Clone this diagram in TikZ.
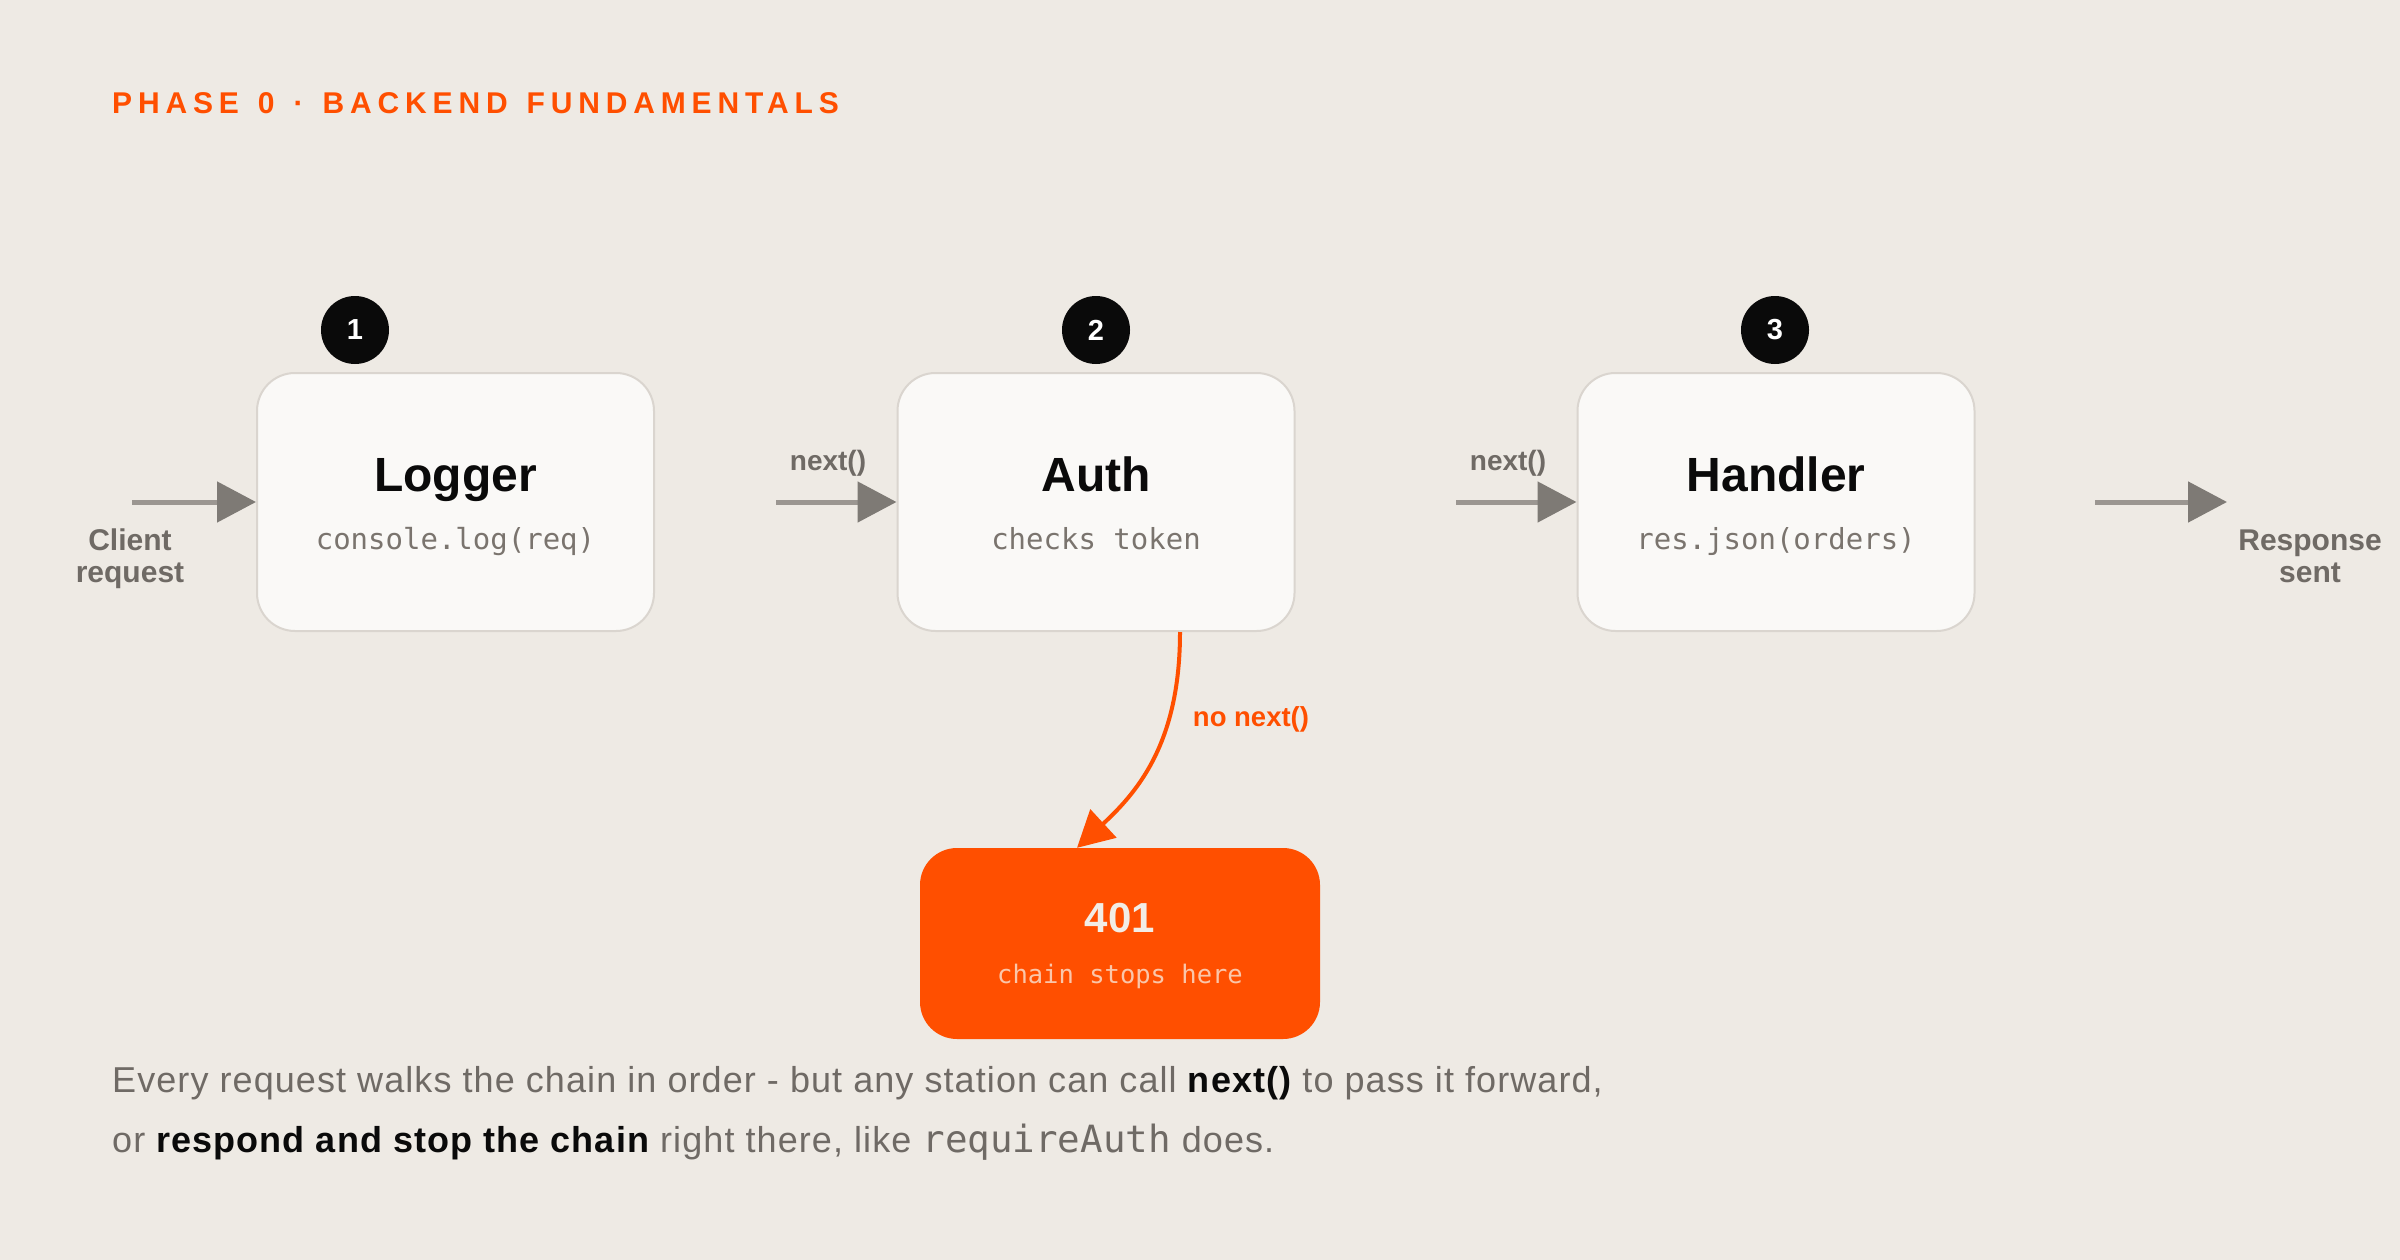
\documentclass[tikz,border=0pt]{standalone}
\usepackage{fontspec}
\setmainfont{Liberation Sans}
\setmonofont{DejaVu Sans Mono}
\newfontfamily\titlefont[LetterSpace=19.5]{Liberation Sans}
\newfontfamily\bodyfont[LetterSpace=3]{Liberation Sans}
\usetikzlibrary{arrows.meta}
\definecolor{bgc}{HTML}{EEEAE4}
\definecolor{boxfill}{HTML}{FAF9F7}
\definecolor{boxline}{HTML}{DAD5CF}
\definecolor{accent}{HTML}{FF4F00}
\definecolor{ink}{HTML}{0A0A0A}
\definecolor{bodygray}{HTML}{6F6A65}
\definecolor{codegray}{HTML}{7A746E}
\definecolor{flowline}{HTML}{9B9691}
\definecolor{flowhead}{HTML}{7E7A75}
\definecolor{cream}{HTML}{F2EDE6}
\definecolor{peach}{HTML}{FAC6AA}
\newcommand\fsz[1]{\fontsize{#1}{#1}\selectfont}
\begin{document}
\begin{tikzpicture}[x=1pt,y=-1pt,
  stagebox/.style={draw=boxline, line width=2pt, fill=boxfill, rounded corners=38pt,
    minimum width=397pt, minimum height=258pt, inner sep=0pt},
  badge/.style={circle, fill=ink, minimum size=68pt, inner sep=0pt, text=white,
    font=\bfseries\fsz{29}},
  stitle/.style={anchor=base, font=\bfseries\fsz{48}, text=ink, inner sep=0pt},
  scode/.style={anchor=base, font=\ttfamily\fsz{29}, text=codegray, inner sep=0pt},
  flow/.style={line width=5pt, draw=flowline,
    -{Triangle[length=39pt,width=40pt,color=flowhead]}},
  flowlabel/.style={anchor=base, font=\bfseries\fsz{28}, text=bodygray, inner sep=0pt},
  sidelabel/.style={anchor=base, font=\bfseries\fsz{30}, text=bodygray, inner sep=0pt},
  stopbox/.style={fill=accent, rounded corners=37pt, minimum width=400pt,
    minimum height=191pt, inner sep=0pt},
  stopflow/.style={line width=4pt, draw=accent,
    -{Triangle[length=36pt,width=38pt,color=accent]}},
  body/.style={anchor=base west, font=\bodyfont\fsz{36}, text=bodygray, inner sep=0pt}
]
\fill[bgc] (0,0) rectangle (2400,1260);
\useasboundingbox (0,0) rectangle (2400,1260);

% title
\node[anchor=base west, inner sep=0pt, text=accent, font=\titlefont\bfseries\fsz{30}]
  (title) at (112,114) {PHASE\hspace{19pt}0\hspace{19pt}·\hspace{19pt}BACKEND\hspace{19pt}FUNDAMENTALS};

% stages
\node[stagebox] (logger) at (455.5,502) {};
\node[stagebox] (auth) at (1096,502) {};
\node[stagebox] (handler) at (1776,502) {};

\node[stitle] (loggerT) at (455.5,491) {Logger};
\node[scode] (loggerC) at (455.5,549) {console.log(req)};
\node[stitle] (authT) at (1096,491) {Auth};
\node[scode] (authC) at (1096,549) {checks token};
\node[stitle] (handlerT) at (1776,491) {Handler};
\node[scode] (handlerC) at (1776,549) {res.json(orders)};

% badges
\node[badge] (b1) at (355,330) {1};
\node[badge] (b2) at (1096,330) {2};
\node[badge] (b3) at (1775,330) {3};

% flow arrows
\coordinate (in0) at (132,502);
\coordinate (s2) at (776,502);
\coordinate (s3) at (1456,502);
\coordinate (s4) at (2095,502);
\coordinate (out0) at (2227,502);
\draw[flow] (in0) -- (logger.west);
\draw[flow] (s2) -- (auth.west);
\draw[flow] (s3) -- (handler.west);
\draw[flow] (s4) -- (out0);

\node[flowlabel] (n1) at (828,470) {next()};
\node[flowlabel] (n2) at (1508,470) {next()};

\node[sidelabel] (cl1) at (130,550) {Client};
\node[sidelabel] (cl2) at (130,582) {request};
\node[sidelabel] (rs1) at (2310,550) {Response};
\node[sidelabel] (rs2) at (2310,582) {sent};

% stop box
\node[stopbox] (err) at (1120,943.5) {};
\node[anchor=base, inner sep=0pt, text=cream, font=\bfseries\fsz{42}] (errT) at (1120,932) {401};
\node[anchor=base, inner sep=0pt, text=peach, font=\ttfamily\fsz{25.5}] (errC) at (1120,983) {chain stops here};

\draw[stopflow] ([xshift=84pt]auth.south) .. controls +(0,108) and +(63,-58) .. ([xshift=-43pt]err.north);
\node[anchor=base, inner sep=0pt, text=accent, font=\bfseries\fsz{27.5}] (nn) at (1251,726) {no next()};

% bottom text
\node[body] (t1) at (112,1092) {Every request walks the chain in order - but any station can call {\bfseries\color{ink}next()} to pass it forward,};
\node[body] (t2) at (112,1152) {or {\bfseries\color{ink}respond and stop the chain} right there, like {\ttfamily\fsz{37.5}requireAuth} does.};
\end{tikzpicture}
\end{document}
